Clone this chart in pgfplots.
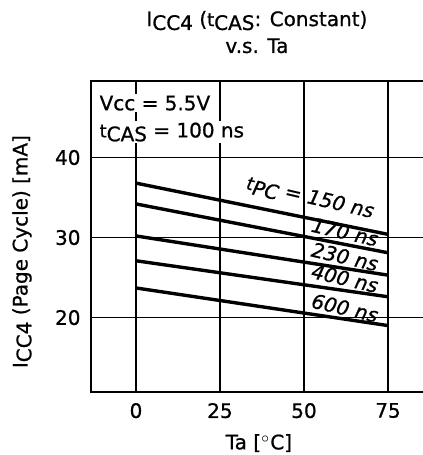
\documentclass[border=0pt]{standalone}
\usepackage{pgfplots}
\pgfplotsset{compat=1.18}
\usepackage{fontspec}
\setmainfont[FakeBold=0.8]{DejaVu Sans}
\begin{document}
\begin{tikzpicture}[font=\fontsize{10}{12}\selectfont]
\begin{axis}[
  scale only axis, width=166pt, height=155.7pt,
  xmin=-13.4, xmax=85.4, ymin=10.7, ymax=49.6,
  xtick={0,25,50,75}, ytick={20,30,40},
  grid=major, major grid style={black, line width=0.9pt},
  major tick length=0pt,
  axis line style={draw=none},
  clip=false,
  /pgf/number format/assume math mode=true,
  tick label style={font=\fontsize{10}{12}\selectfont},
  xticklabel style={yshift=-2pt},
  yticklabel style={xshift=-1.7pt},
  xlabel={Ta [$^\circ$C]},
  xlabel style={at={(axis description cs:0.506,-0.164)}, anchor=center},
  ylabel={I\raisebox{-0.35ex}{CC4} (Page Cycle) [mA]},
  ylabel style={at={(axis description cs:-0.208,0.451)}, anchor=center, rotate=0},
]
\draw[line width=0.9pt] (rel axis cs:1,1) -- (rel axis cs:0,1) -- (rel axis cs:0,0) -- (rel axis cs:1,0);
\coordinate (sw) at (rel axis cs:0,0);
\coordinate (ne) at (rel axis cs:1,1);

\addplot[black, line width=1.7pt] coordinates {(0,36.8) (75,30.4)};
\addplot[black, line width=1.7pt] coordinates {(0,34.2) (75,28.1)};
\addplot[black, line width=1.7pt] coordinates {(0,30.2) (75,25.3)};
\addplot[black, line width=1.7pt] coordinates {(0,27.1) (75,22.6)};
\addplot[black, line width=1.7pt] coordinates {(0,23.7) (75,19.0)};

\node[anchor=west, fill=white, inner sep=0.8pt] at (axis description cs:0.02,0.928) {Vcc = 5.5V};
\node[anchor=west, fill=white, inner sep=0.8pt] at (axis description cs:0.02,0.835) {{\small t}\raisebox{-0.35ex}{CAS} = 100 ns};

\node[rotate=-13, inner sep=0pt, font=\fontsize{10}{10}\selectfont\itshape] at (axis cs:51.8,34.9) {{\small t}\raisebox{-0.35ex}{PC} = 150 ns};
\node[rotate=-13, inner sep=0pt, font=\fontsize{10}{10}\selectfont\itshape] at (axis cs:62.2,30.7) {170 ns};
\node[rotate=-13, inner sep=0pt, font=\fontsize{10}{10}\selectfont\itshape] at (axis cs:62.2,27.6) {230 ns};
\node[rotate=-13, inner sep=0pt, font=\fontsize{10}{10}\selectfont\itshape] at (axis cs:62.2,24.9) {400 ns};
\node[rotate=-13, inner sep=0pt, font=\fontsize{10}{10}\selectfont\itshape] at (axis cs:62.2,21.2) {600 ns};

\node at (axis description cs:0.5,1.193) {I\raisebox{-0.35ex}{CC4} ({\small t}\raisebox{-0.35ex}{CAS}: Constant)};
\node at (axis description cs:0.5,1.112) {v.s. Ta};
\end{axis}
\pgfresetboundingbox
\path ([shift={(-45.5pt,-31.5pt)}]sw) rectangle ([shift={(0pt,40.35pt)}]ne);
\end{tikzpicture}
\end{document}
